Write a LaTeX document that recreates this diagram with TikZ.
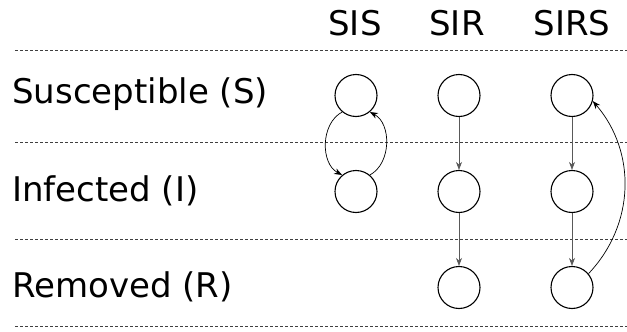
\documentclass[tikz,border=0pt]{standalone}
\usepackage{fontspec}
\setmainfont{DejaVu Sans}
\usetikzlibrary{arrows.meta}
\begin{document}
\begin{tikzpicture}[x=1pt,y=-1pt,
  state/.style={circle,draw,line width=1.1pt,minimum size=42pt,inner sep=0pt},
  lbl/.style={anchor=base west,font=\fontsize{34}{40}\selectfont,inner sep=0pt},
  hdr/.style={anchor=base,font=\fontsize{34}{40}\selectfont,inner sep=0pt},
  sep/.style={dash pattern=on 3pt off 2pt, draw=black!75, line width=0.6pt},
  arr/.style={-{Stealth[length=8pt,width=6pt,inset=2.5pt]}, line width=0.7pt},
  varr/.style={arr, draw=black!65},
]
\useasboundingbox (0,0) rectangle (627,332);
% headings
\node[hdr] (hsis) at (355,35) {SIS};
\node[hdr] (hsir) at (457,35) {SIR};
\node[hdr] (hsirs) at (572,35) {SIRS};
% row labels
\node[lbl] (ls) at (12,103) {Susceptible (S)};
\node[lbl] (li) at (12,201) {Infected (I)};
\node[lbl] (lr) at (12,297) {Removed (R)};
% separators
\coordinate (d1a) at (15,50);  \coordinate (d1b) at (627,50);
\coordinate (d2a) at (15,142); \coordinate (d2b) at (627,142);
\coordinate (d3a) at (15,239); \coordinate (d3b) at (627,239);
\coordinate (d4a) at (15,326); \coordinate (d4b) at (627,326);
\draw[sep] (d1a) -- (d1b);
\draw[sep] (d2a) -- (d2b);
\draw[sep] (d3a) -- (d3b);
\draw[sep] (d4a) -- (d4b);
% SIS
\node[state] (s1) at (356,95.5) {};
\node[state] (i1) at (356,191.5) {};
% SIR
\node[state] (s2) at (459,95.5) {};
\node[state] (i2) at (459,191.5) {};
\node[state] (r2) at (459,287.5) {};
% SIRS
\node[state] (s3) at (572,95.5) {};
\node[state] (i3) at (572,191.5) {};
\node[state] (r3) at (572,287.5) {};
% arrows
\draw[arr] (s1.230) to[bend right=62] (i1.130);
\draw[arr] (i1.50) to[bend right=62] (s1.310);
\draw[varr] (s2) -- (i2);
\draw[varr] (i2) -- (r2);
\draw[varr] (s3) -- (i3);
\draw[varr] (i3) -- (r3);
\draw[arr] (r3.40) to[bend right=42] (s3.-15);
\end{tikzpicture}
\end{document}
